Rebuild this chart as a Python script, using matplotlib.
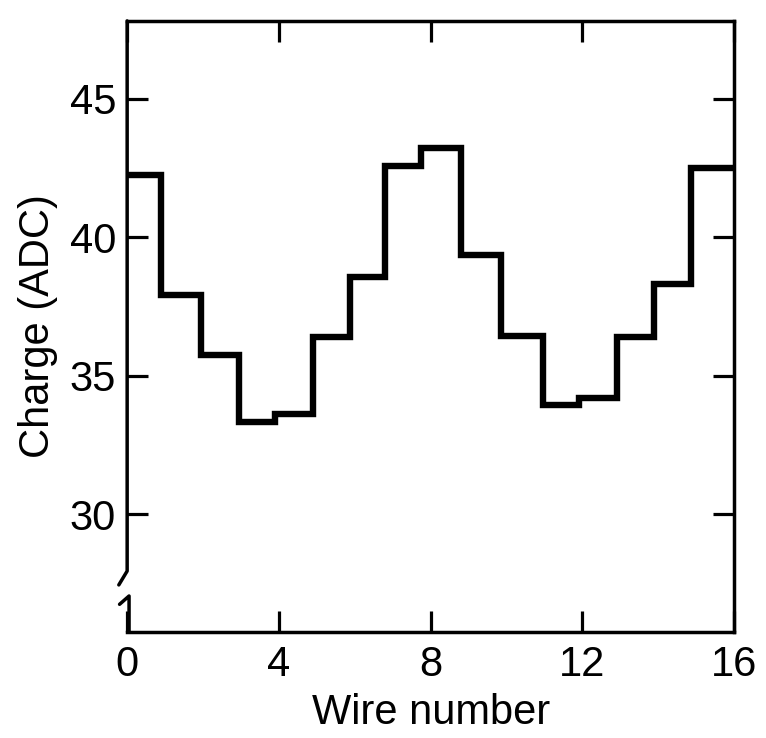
import matplotlib
matplotlib.use('Agg')
import matplotlib.pyplot as plt

plt.rcParams['font.family'] = ['Liberation Sans', 'DejaVu Sans']

# bin edges (wire number) and charge per wire
wire_edges = [0, 0.9, 1.95, 2.95, 3.9, 4.9, 5.87, 6.8, 7.75, 8.8, 9.85,
              10.95, 11.9, 12.9, 13.9, 14.85, 16]
charge = [42.24, 37.9, 35.75, 33.34, 33.6, 36.38, 38.55, 42.55, 43.2,
          39.35, 36.42, 33.95, 34.18, 36.39, 38.32, 42.5]

x_ticks = [0, 4, 8, 12, 16]
y_ticks = [30, 35, 40, 45]

fig = plt.figure(figsize=(7.66, 7.38), dpi=100)
ax = fig.add_axes([0.166, 0.1436, 0.7924, 0.828])

ax.stairs(charge, wire_edges, baseline=None, color='black', linewidth=4.6)

ax.set_xlim(0, 16)
ax.set_ylim(25.75, 47.8)
ax.set_xticks(x_ticks)
ax.set_yticks(y_ticks)

for side in ['top', 'right', 'bottom']:
    ax.spines[side].set_linewidth(2.5)
ax.spines['left'].set_visible(False)

ax.tick_params(direction='in', length=15, width=2.3, labelsize=30,
               top=True, right=True, pad=8)
ax.tick_params(axis='x', pad=9)

# left axis drawn by hand with a break near the bottom
spine_kw = dict(color='black', linewidth=2.5, clip_on=False,
                solid_capstyle='round', solid_joinstyle='round')
ax.plot([0, 0, -0.22], [47.8, 27.95, 27.45], **spine_kw)
ax.plot([-0.2, 0.05, 0.05], [26.75, 27.05, 25.75], **spine_kw)

ax.set_xlabel('Wire number', fontsize=30, labelpad=6)
ax.set_ylabel('Charge (ADC)', fontsize=30, labelpad=8)

fig.savefig('out.png', dpi=100)
